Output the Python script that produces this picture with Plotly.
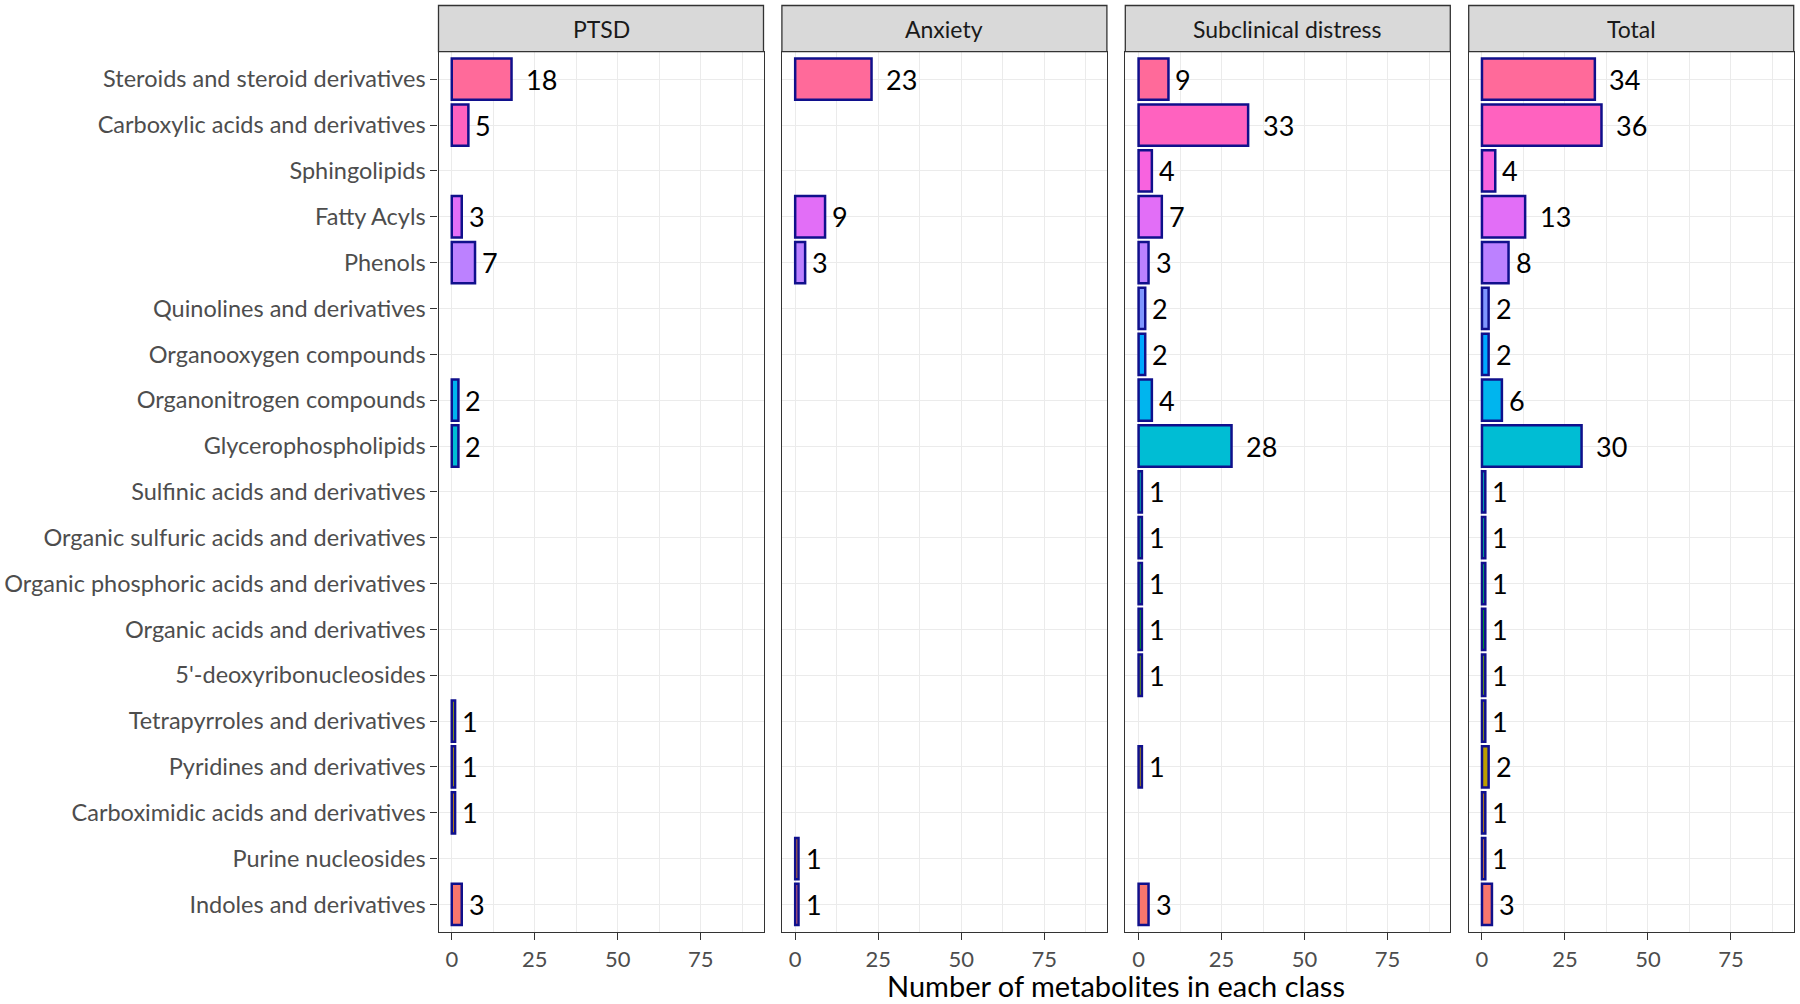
import math
import plotly.graph_objects as go

# ---------------- data ----------------
categories = [
    "Steroids and steroid derivatives",
    "Carboxylic acids and derivatives",
    "Sphingolipids",
    "Fatty Acyls",
    "Phenols",
    "Quinolines and derivatives",
    "Organooxygen compounds",
    "Organonitrogen compounds",
    "Glycerophospholipids",
    "Sulfinic acids and derivatives",
    "Organic sulfuric acids and derivatives",
    "Organic phosphoric acids and derivatives",
    "Organic acids and derivatives",
    "5'-deoxyribonucleosides",
    "Tetrapyrroles and derivatives",
    "Pyridines and derivatives",
    "Carboximidic acids and derivatives",
    "Purine nucleosides",
    "Indoles and derivatives",
]
ptsd = [18, 5, 0, 3, 7, 0, 0, 2, 2, 0, 0, 0, 0, 0, 1, 1, 1, 0, 3]
anxiety = [23, 0, 0, 9, 3, 0, 0, 0, 0, 0, 0, 0, 0, 0, 0, 0, 0, 1, 1]
subclinical = [9, 33, 4, 7, 3, 2, 2, 4, 28, 1, 1, 1, 1, 1, 0, 1, 0, 0, 3]
total = [34, 36, 4, 13, 8, 2, 2, 6, 30, 1, 1, 1, 1, 1, 1, 2, 1, 1, 3]
panel_names = ["PTSD", "Anxiety", "Subclinical distress", "Total"]
panel_values = [ptsd, anxiety, subclinical, total]
x_title = "Number of metabolites in each class"


# ---------------- colours (ggplot2 default hue palette) ----------------
def hcl_hex(h, c=100.0, l=65.0):
    Xn, Yn, Zn = 95.047, 100.0, 108.883
    u = c * math.cos(math.radians(h))
    v = c * math.sin(math.radians(h))
    Y = Yn * ((l + 16) / 116) ** 3
    t = Xn + 15 * Yn + 3 * Zn
    un, vn = 4 * Xn / t, 9 * Yn / t
    up = u / (13 * l) + un
    vp = v / (13 * l) + vn
    X = 9 * Y * up / (4 * vp)
    Z = Y * (12 - 3 * up - 20 * vp) / (4 * vp)
    X, Y, Z = X / 100, Y / 100, Z / 100
    rgb = [
        3.240479 * X - 1.537150 * Y - 0.498535 * Z,
        -0.969256 * X + 1.875992 * Y + 0.041556 * Z,
        0.055648 * X - 0.204043 * Y + 1.057311 * Z,
    ]
    out = []
    for ch in rgb:
        ch = 12.92 * ch if ch <= 0.0031308 else 1.055 * ch ** (1 / 2.4) - 0.055
        out.append(int(round(min(max(ch, 0), 1) * 255)))
    return "#%02X%02X%02X" % tuple(out)


n = len(categories)
# level 1 = bottom category
colors = [hcl_hex(15 + (n - 1 - i) * 360 / n) for i in range(n)]

FONT = "Lato"
BORDER = "#333333"
GRID = "#EBEBEB"

W, H = 1800, 1004


def px_x(p):
    return p / W


def px_y(p):
    return 1 - p / H


left0, pw, gap = 438.5, 325.0, 18.4
y_bot = px_y(932)
y_top = px_y(51.7)
strip_top = px_y(5.5)

fig = go.Figure()
annotations = []
shapes = []

for k, (name, vals) in enumerate(zip(panel_names, panel_values)):
    ax = "" if k == 0 else str(k + 1)
    x0 = px_x(left0 + k * (pw + gap))
    x1 = px_x(left0 + k * (pw + gap) + pw)
    xv = [v if v > 0 else None for v in vals]
    fig.add_trace(go.Bar(
        x=xv, y=categories, orientation="h", width=0.9,
        marker=dict(color=colors, line=dict(color="#10108C", width=2.5)),
        xaxis="x" + ax, yaxis="y" + ax, showlegend=False, hoverinfo="x+y",
    ))
    fig.layout["xaxis" + ax] = dict(
        domain=[x0, x1], anchor="y" + ax, range=[-4.0, 93.9],
        tick0=0, dtick=25, ticks="outside", ticklen=7, tickwidth=1.3, tickcolor=BORDER,
        tickfont=dict(family=FONT, size=22, color="#4D4D4D"),
        showgrid=True, gridcolor=GRID, gridwidth=1.4,
        minor=dict(dtick=12.5, tick0=0, showgrid=True, gridcolor=GRID, gridwidth=0.7, ticks=""),
        zeroline=False, showline=True, mirror=True, linecolor=BORDER, linewidth=1.3,
    )
    fig.layout["yaxis" + ax] = dict(
        domain=[y_bot, y_top], anchor="x" + ax,
        type="category", categoryorder="array", categoryarray=categories[::-1],
        range=[-0.6, n - 0.4],
        showgrid=True, gridcolor=GRID, gridwidth=1.4, zeroline=False,
        showline=True, mirror=True, linecolor=BORDER, linewidth=1.3,
        ticks="outside" if k == 0 else "", ticklen=7, tickwidth=1.3, tickcolor=BORDER,
        showticklabels=(k == 0),
        tickfont=dict(family=FONT, size=23.5, color="#4D4D4D"),
    )
    # strip
    shapes.append(dict(type="rect", xref="paper", yref="paper", x0=x0, x1=x1,
                       y0=y_top, y1=strip_top, fillcolor="#D9D9D9",
                       line=dict(color=BORDER, width=1.3)))
    annotations.append(dict(x=(x0 + x1) / 2, y=(y_top + strip_top) / 2, xref="paper", yref="paper",
                            text=name, showarrow=False, xanchor="center", yanchor="middle",
                            font=dict(family=FONT, size=23, color="#1A1A1A")))
    # value labels
    for cat, v in zip(categories, vals):
        if v > 0:
            s = str(v)
            annotations.append(dict(x=v, y=cat, xref="x" + ax, yref="y" + ax, text=s,
                                    showarrow=False, xanchor="center", yanchor="middle",
                                    xshift=15 * len(s),
                                    font=dict(family=FONT, size=27, color="black")))

annotations.append(dict(x=px_x((438.5 + 1794.3) / 2), y=px_y(985), xref="paper", yref="paper",
                        text=x_title, showarrow=False, xanchor="center", yanchor="middle",
                        font=dict(family=FONT, size=29, color="black")))

fig.update_layout(
    width=W, height=H, margin=dict(l=0, r=0, t=0, b=0),
    plot_bgcolor="white", paper_bgcolor="white",
    annotations=annotations, shapes=shapes, bargap=0.1,
)

fig.write_html("out.html", config={"displayModeBar": False},
               post_script="document.body.style.margin='0';document.body.style.overflow='hidden';")
